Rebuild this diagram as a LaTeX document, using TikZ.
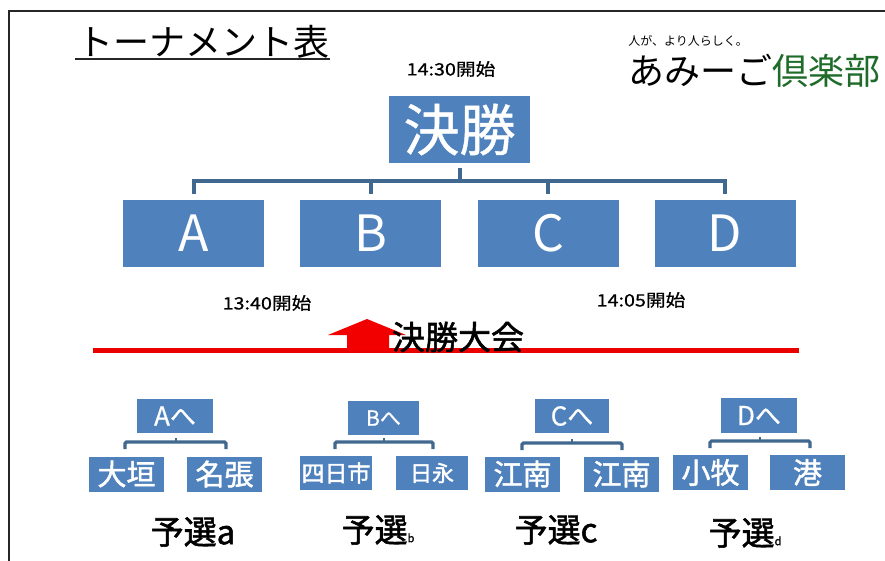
\documentclass[tikz,border=0pt]{standalone}
\usepackage{fontspec}
\setmainfont{Noto Sans CJK JP}
\newfontfamily\heavyfont[FakeBold=1.6]{Noto Sans CJK JP}
\newfontfamily\medfont[FakeBold=0.7]{Noto Sans CJK JP}
\definecolor{boxblue}{HTML}{4F81BD}
\definecolor{linkblue}{HTML}{41688F}
\definecolor{clubgreen}{HTML}{1E6B2A}
\newcommand{\fs}[1]{\fontsize{#1}{#1}\selectfont}
\tikzset{
  x=1pt,y=-1pt,
  boxbase/.style={fill=boxblue,text=white,inner sep=0pt,anchor=center,align=center},
  big/.style={boxbase,minimum width=141,minimum height=67,font=\fs{50}},
  small/.style={boxbase,minimum width=75,minimum height=35,font=\heavyfont\fs{29}},
  head/.style={boxbase,font=\medfont\fs{26}},
  label/.style={inner sep=0pt,anchor=center,text=black},
  timelabel/.style={label,font=\medfont\fs{17}},
  link/.style={draw=linkblue,line width=4pt},
  linksmall/.style={draw=linkblue,line width=3.2pt,rounded corners=1.5pt},
  stub/.style={draw=linkblue,line width=2.6pt},
  qual/.style={label,font=\heavyfont\fs{33}},
}
\begin{document}
\begin{tikzpicture}
\useasboundingbox (0,0) rectangle (885,561);
\fill[white] (0,0) rectangle (885,561);
\coordinate (frameTR) at (885,11);
\coordinate (frameTL) at (9,11);
\coordinate (frameBL) at (9,561);
\draw[line width=1.5pt,black!85] (frameTR) -- (frameTL) -- (frameBL);

% title
\node[label,font=\fs{36}] (title) at (203,42) {トーナメント表};
\coordinate (ulL) at (75,59);
\coordinate (ulR) at (330,59);
\draw[line width=2.2pt,black!85] (ulL) -- (ulR);
\node[label,font=\fs{12}] (tag) at (688,41) {人が、より人らしく。};
\node[label,font=\fs{36}] (club) at (754,71) {あみーご\textcolor{clubgreen}{倶楽部}};

% times
\node[timelabel] (t1430) at (451,69) {\scalebox{1.16}[1]{14:30開始}};
\node[timelabel] (t1340) at (267,303) {\scalebox{1.16}[1]{13:40開始}};
\node[timelabel] (t1405) at (641,300) {\scalebox{1.16}[1]{14:05開始}};

% final round
\node[boxbase,minimum width=141,minimum height=67,font=\medfont\fs{56}] (final) at (459.5,129.5) {決勝};
\node[big] (A) at (193.5,233.5) {A};
\node[big] (B) at (370.5,233.5) {B};
\node[big] (C) at (548,233.5) {C};
\node[big] (D) at (725,233.5) {D};
\coordinate (busTop) at (459.5,168);
\coordinate (busMid) at (459.5,181);
\coordinate (busA) at (193.5,181);
\coordinate (busD) at (725,181);
\coordinate (busB) at (370.5,181);
\coordinate (busC) at (548,181);
\draw[link] (busTop) -- (busMid);
\draw[link] (193.5,194) -- (busA) -- (busD) -- (725,194);
\draw[link] (busB) -- (370.5,194);
\draw[link] (busC) -- (548,194);

% red line and arrow
\coordinate (redL) at (93,350);
\coordinate (redR) at (799,350);
\draw[red!92!black,line width=5pt] (redL) -- (redR);
\coordinate (arrowTip) at (367,319);
\fill[red!95!black] (arrowTip) -- (406,335) -- (389,335) -- (389,351) -- (347,351) -- (347,335) -- (328,335) -- cycle;
\node[label,font=\heavyfont\fs{33}] (taikai) at (458,337) {決勝大会};

% qualifying heads
\node[head,minimum width=76,minimum height=34] (headA) at (175,416) {Aへ};
\node[head,minimum width=71,minimum height=34,font=\medfont\fs{21}] (headB) at (383.5,418) {Bへ};
\node[head,minimum width=74,minimum height=34] (headC) at (572,416) {Cへ};
\node[head,minimum width=76,minimum height=35] (headD) at (759,415.5) {Dへ};

% leaves
\node[small] (ogaki) at (126.5,474) {大垣};
\node[small] (nabari) at (224.5,474) {名張};
\node[boxbase,minimum width=72,minimum height=34,font=\heavyfont\fs{23}] (yokkaichi) at (336,473) {四日市};
\node[boxbase,minimum width=72,minimum height=34,font=\heavyfont\fs{22}] (hinaga) at (432,473) {日永};
\node[small] (konan1) at (522.5,474) {江南};
\node[small] (konan2) at (621.5,474) {江南};
\node[small] (komaki) at (710.5,472.5) {小牧};
\node[small] (minato) at (807.5,472.5) {港};

% brackets
\draw[linksmall] (125,449) -- (125,442) -- (226,442) -- (226,449);
\draw[linksmall] (335,449) -- (335,442) -- (433,442) -- (433,449);
\draw[linksmall] (522,450) -- (522,443) -- (622,443) -- (622,450);
\draw[linksmall] (710,448) -- (710,441) -- (810,441) -- (810,448);
\coordinate (sA) at (176,438); \coordinate (eA) at (176,442);
\coordinate (sB) at (384,438); \coordinate (eB) at (384,442);
\coordinate (sC) at (572,439); \coordinate (eC) at (572,443);
\coordinate (sD) at (760,437); \coordinate (eD) at (760,441);
\draw[stub] (sA) -- (eA);
\draw[stub] (sB) -- (eB);
\draw[stub] (sC) -- (eC);
\draw[stub] (sD) -- (eD);

% qualifying labels
\node[qual] (qa) at (193,532) {予選a};
\node[qual] (qb) at (378,530) {予選{\fs{11}b}};
\node[qual] (qc) at (556,530) {予選c};
\node[qual] (qd) at (745,533) {予選{\fs{11}d}};
\end{tikzpicture}
\end{document}
